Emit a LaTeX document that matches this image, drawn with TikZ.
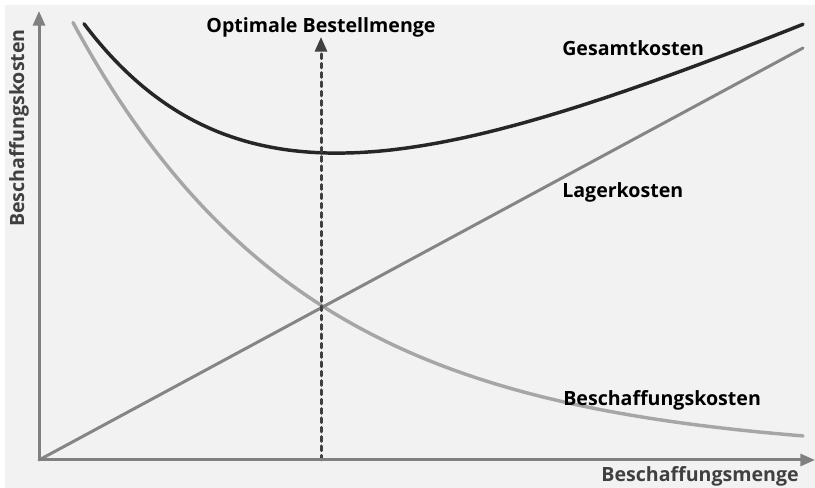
\documentclass[tikz,border=0pt]{standalone}
\usepackage{fontspec}
\setmainfont{Open Sans}
\usepackage{tikz}
\usetikzlibrary{calc}
\usetikzlibrary{arrows.meta, positioning}
\definecolor{bgray}{HTML}{F2F2F2}
\definecolor{axisgray}{HTML}{808080}
\definecolor{lagergray}{HTML}{858585}
\definecolor{beschgray}{HTML}{A6A6A6}
\definecolor{gesamtblack}{HTML}{262626}
\definecolor{dashgray}{HTML}{404040}
\tikzset{>={Triangle[length=11pt,width=9pt]}}
\tikzset{
	axis/.style={draw=axisgray, line width=2.25pt, ->},
	curvelabel/.style={inner sep=0pt, font=\bfseries\fontsize{14.7}{17}\selectfont},
	axislabel/.style={curvelabel, text=dashgray}
}

\begin{document}
\begin{tikzpicture}[x=0.75pt, y=0.75pt]
			\useasboundingbox (-39, -28) rectangle (776, 460);
			\fill [white] (-39, -28) rectangle (776, 460);
			\fill [bgray] (-34, -28) rectangle (776, 455);
			\coordinate (O) at (0, 0);
			\coordinate (xtip) at (776, 0);
			\coordinate (ytip) at (0, 449);
			\coordinate (lagerend) at (764, 412);
			\coordinate (qopt) at (282, 0);
			\coordinate (qtop) at (282, 423);
			% curves
			\draw [beschgray, line width=2.6pt, line cap=round] plot [domain=34:764, samples=120, smooth] (\x, {500*exp(-\x/234)+5});
			\draw [lagergray, line width=2.25pt, line cap=round] (O)--(lagerend);
			\draw [gesamtblack, line width=2.6pt, line cap=round] plot [domain=45:764, samples=120, smooth] (\x, {0.43*\x+405*exp(-\x/180)+101.4});
			\draw [dashgray, line width=2.25pt, line cap=round, dash pattern=on 3.5pt off 3.5pt, ->] (qopt)--(qtop);
			% axes
			\draw [axis] (O)--(xtip);
			\draw [axis] (O)--(ytip);
			\node (optlabel) at (282, 427) [curvelabel, anchor=base] {Optimale Bestellmenge};
			\node (gesamtlabel) at (523, 404) [curvelabel, anchor=base west] {Gesamtkosten};
			\node (lagerlabel) at (523, 262) [curvelabel, anchor=base west] {Lagerkosten};
			\node (beschlabel) at (524, 54) [curvelabel, anchor=base west] {Beschaffungskosten};
			\node (xlabel) at (760, -22) [axislabel, anchor=base east] {Beschaffungsmenge};
			\node (ylabel) at (-15, 332) [axislabel, anchor=base, rotate=90] {Beschaffungskosten};
		\end{tikzpicture}
\end{document}
